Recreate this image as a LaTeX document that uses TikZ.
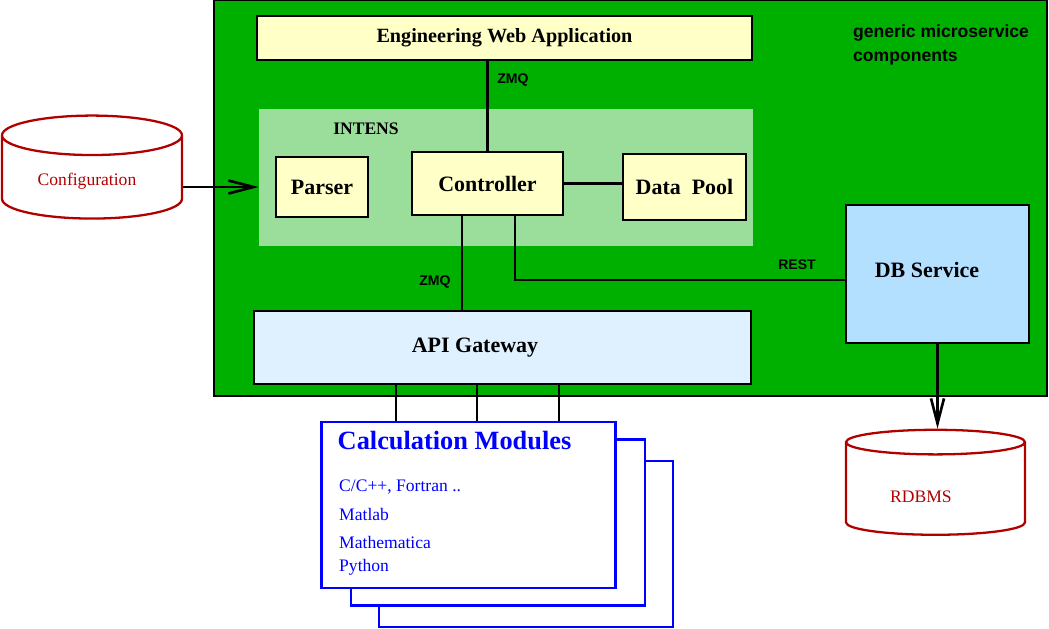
\documentclass[tikz,border=0pt]{standalone}
\usepackage{fontspec}
\setmainfont{Liberation Serif}
\setsansfont{Liberation Sans}
\definecolor{FrameGreen}{RGB}{0,176,0}
\definecolor{IntensGreen}{RGB}{155,222,155}
\definecolor{BoxYellow}{RGB}{255,255,200}
\definecolor{DbBlue}{RGB}{180,224,255}
\definecolor{GateBlue}{RGB}{223,241,255}
\definecolor{StoreRed}{RGB}{176,0,0}
\definecolor{ModuleBlue}{RGB}{0,0,255}
\usetikzlibrary{positioning, arrows.meta, shapes.geometric}

\begin{document}
\begin{tikzpicture}[x=0.02cm, y=-0.02cm,
    box/.style={draw, line width=1.1pt, inner sep=0pt, font=\fontsize{12.5}{14}\selectfont\bfseries},
    link/.style={line width=1.5pt},
    tag/.style={font=\sffamily\bfseries\fontsize{8}{9}\selectfont},
    store/.style={cylinder, shape border rotate=90, aspect=0.4, draw=StoreRed, line width=1.3pt, inner sep=0pt, font=\fontsize{10}{12}\selectfont},
    storetext/.style={text=StoreRed, font=\fontsize{10}{12}\selectfont},
    module/.style={draw=ModuleBlue, line width=1.2pt, fill=white, minimum width=5.88cm, minimum height=3.32cm, inner sep=0pt},
    item/.style={anchor=west, text=ModuleBlue, font=\fontsize{10}{12}\selectfont}]
          \useasboundingbox (0,0) rectangle (1049,629);
          \node[draw, fill=FrameGreen, line width=0.8pt, minimum width=16.66cm, minimum height=7.92cm, inner sep=0pt] (services) at (630.5,198) {};
          \node[anchor=west, align=left, font=\sffamily\bfseries\fontsize{10}{14}\selectfont] (caption) at (847,45) {generic microservice\\components};
          \node[box, fill=BoxYellow, minimum width=9.9cm, minimum height=0.88cm, font=\fontsize{11.5}{13}\selectfont\bfseries] (webapp) at (504.5,38) {Engineering Web Application};
          \node[fill=IntensGreen, minimum width=9.88cm, minimum height=2.74cm, inner sep=0pt] (intens) at (506,177.5) {};
          \node[font=\fontsize{10}{12}\selectfont\bfseries] (intenslabel) at (366,129) {INTENS};
          \node[box, fill=BoxYellow, minimum width=1.84cm, minimum height=1.2cm] (parser) at (322,187) {Parser};
          \node[box, fill=BoxYellow, minimum width=3.02cm, minimum height=1.26cm] (controller) at (487.5,183.5) {Controller};
          \node[box, fill=BoxYellow, minimum width=2.46cm, minimum height=1.32cm] (datapool) at (684.5,187) {Data\enspace Pool};
          \node[box, fill=DbBlue, minimum width=3.66cm, minimum height=2.76cm] (dbservice) at (937.5,274) {};
          \node[font=\fontsize{12.5}{14}\selectfont\bfseries] (dblabel) at (927,270) {DB Service};
          \node[box, fill=GateBlue, minimum width=9.94cm, minimum height=1.46cm] (apigw) at (502.5,347.5) {};
          \node[font=\fontsize{12.5}{14}\selectfont\bfseries] (apilabel) at (475,348) {API Gateway};

          % connectors inside the service frame
          \draw[link] (controller.north) -- (controller.north |- webapp.south);
          \node[tag] (zmqtop) at (513,80) {ZMQ};
          \draw[link] (controller.east) -- (controller.east -| datapool.west);
          \draw[link] ([xshift=-0.51cm]controller.south) -- ([xshift=-0.51cm]controller.south |- apigw.north);
          \node[tag] (zmqlow) at (435,282) {ZMQ};
          \draw[link] ([xshift=0.55cm]controller.south) |- ([yshift=-0.12cm]dbservice.west);
          \node[tag] (rest) at (797,265) {REST};

          % calculation modules
          \node[module] (calc3) at (526,544) {};
          \node[module] (calc2) at (498,522.5) {};
          \node[module] (calc) at (468.5,505) {};
          \node[text=ModuleBlue, font=\fontsize{15}{17}\selectfont\bfseries] (calctitle) at (454.5,441) {Calculation Modules};
          \node[item] (lang1) at (333,487) {C/C++, Fortran ..};
          \node[item] (lang2) at (333,514) {Matlab};
          \node[item] (lang3) at (333,542) {Mathematica};
          \node[item] (lang4) at (333,567) {Python};
          \foreach \dx in {-72.5, 8.5, 90.5}
            \draw[link] ([xshift=\dx*0.02cm]calc.north) -- ([xshift=\dx*0.02cm]calc.north |- apigw.south);

          % data stores
          \node[store, minimum width=3.6cm, minimum height=2.06cm] (config) at (92,177.5) {\phantom{Configuration}};
          \node[storetext] (configlabel) at (87,181) {Configuration};
          \node[store, minimum width=3.58cm, minimum height=2.1cm] (rdbms) at (935.5,489) {\phantom{RDBMS}};
          \node[storetext] (rdbmslabel) at (921,497) {RDBMS};
          \draw[link, -{Straight Barb[length=5mm, width=2.6mm]}] (config.east |- parser) -- (intens.west |- parser);
          \draw[link, -{Straight Barb[length=5mm, width=2.6mm]}] (dbservice.south) -- (dbservice.south |- rdbms.north);
        \end{tikzpicture}
\end{document}
